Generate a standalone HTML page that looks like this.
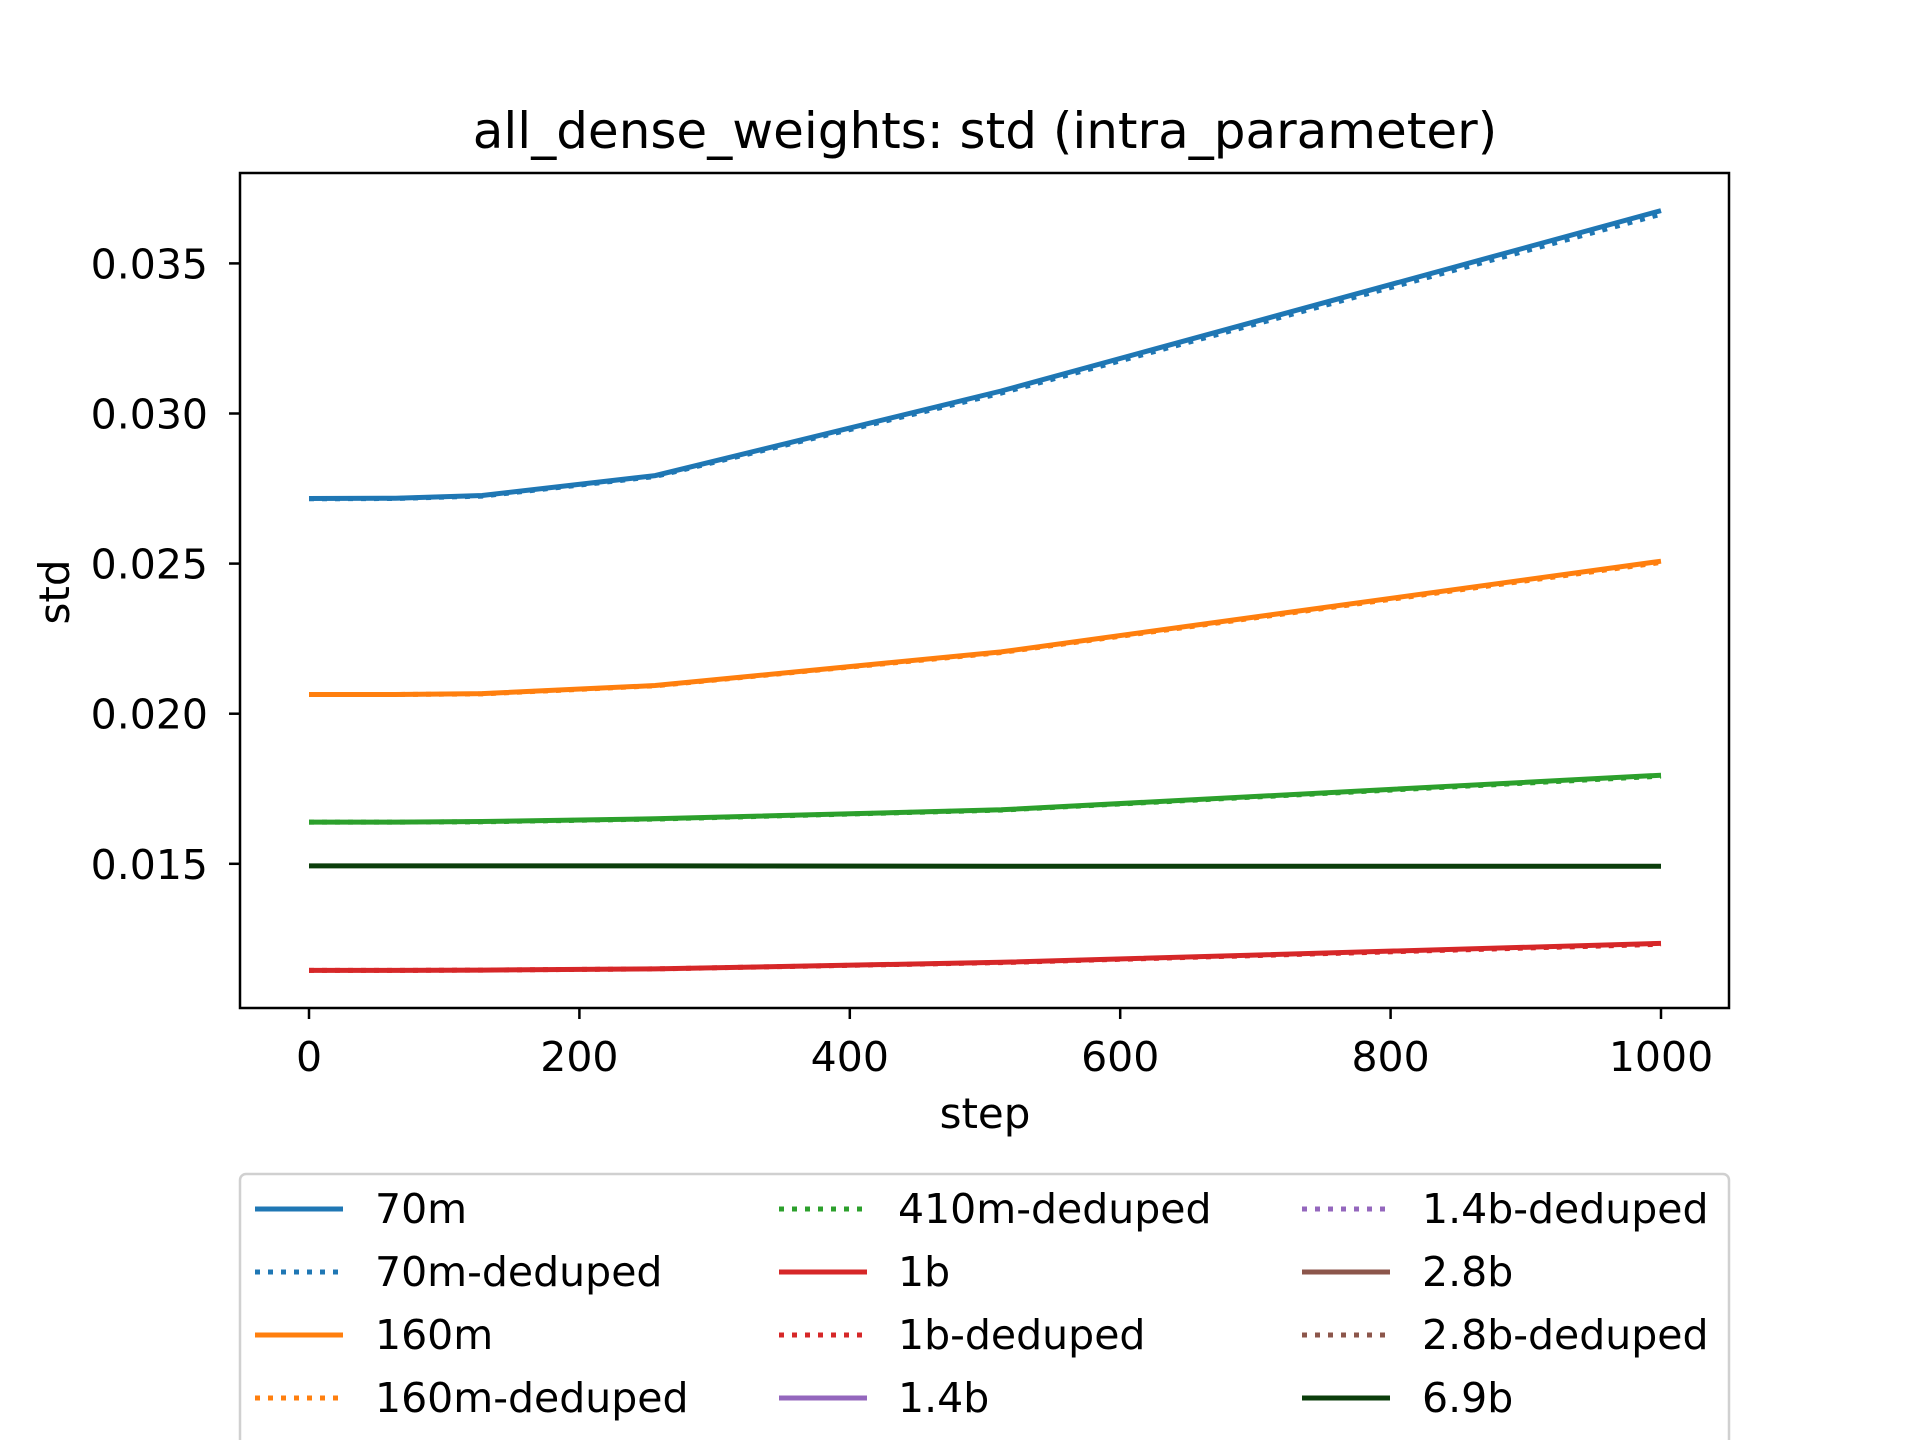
<!DOCTYPE html>
<html><head><meta charset="utf-8"><style>
html,body{margin:0;padding:0;background:#fff;}
svg{display:block;font-family:"DejaVu Sans","Liberation Sans",sans-serif;}
</style></head><body>
<svg id="chart" width="1920" height="1440" viewBox="0 0 1920 1440" xmlns="http://www.w3.org/2000/svg">
<rect width="1920" height="1440" fill="#fff"/>
<text x="985" y="148" font-size="50" text-anchor="middle">all_dense_weights: std (intra_parameter)</text>
<g id="plot"></g>
<rect x="240" y="173" width="1489" height="835" fill="none" stroke="#000" stroke-width="2.5"/>
<g id="axes"></g>
<text x="985" y="1128" font-size="42" text-anchor="middle">step</text>
<text transform="translate(69,592) rotate(-90)" font-size="42" text-anchor="middle">std</text>
<g id="legend"></g>
</svg>
<script>
const steps = [0, 64, 128, 256, 512, 1000];
const s70m = [0.02717, 0.02718, 0.02727, 0.02793, 0.03075, 0.03676];
const s70mDedup = [0.02716, 0.02717, 0.02725, 0.02790, 0.03068, 0.03664];
const s160m = [0.02064, 0.02064, 0.02067, 0.02094, 0.02206, 0.02508];
const s160mDedup = [0.02064, 0.02064, 0.02066, 0.02093, 0.02204, 0.02504];
const s410mDedup = [0.01639, 0.01639, 0.01640, 0.01649, 0.01679, 0.01792];
const s410m = [0.01639, 0.01639, 0.01641, 0.01650, 0.01680, 0.01795];
const s1b = [0.01145, 0.01145, 0.01146, 0.01150, 0.01172, 0.01235];
const s1bDedup = [0.01145, 0.01145, 0.01146, 0.01150, 0.01171, 0.01232];
const s69b = [0.01493, 0.01493, 0.01493, 0.01493, 0.01492, 0.01492];
const xTicks = [0, 200, 400, 600, 800, 1000];
const yTicks = [0.015, 0.020, 0.025, 0.030, 0.035];
const yTickLabels = ["0.015", "0.020", "0.025", "0.030", "0.035"];

const NS = "http://www.w3.org/2000/svg";
const xs = v => 309 + v * (1661 - 309) / 1000;
const ys = v => 263.4 + (0.035 - v) * (863.8 - 263.4) / 0.020;
function mk(tag, attrs, parent) {
  const e = document.createElementNS(NS, tag);
  for (const k in attrs) e.setAttribute(k, attrs[k]);
  parent.appendChild(e);
  return e;
}
const plot = document.getElementById('plot');
const series = [
  ["70m", s70m, "#1f77b4", false],
  ["160m", s160m, "#ff7f0e", false],
  ["410m", s410m, "#2ca02c", false],
  ["1b", s1b, "#d62728", false],
  ["6-9b", s69b, "#0b3d0b", false],
  ["70m-deduped", s70mDedup, "#1f77b4", true],
  ["160m-deduped", s160mDedup, "#ff7f0e", true],
  ["410m-deduped", s410mDedup, "#2ca02c", true],
  ["1b-deduped", s1bDedup, "#d62728", true]
];
series.forEach(([name, vals, col, dot]) => {
  const p = mk('polyline', {points: vals.map((v, i) => xs(steps[i]).toFixed(1) + ',' + ys(v).toFixed(1)).join(' '),
    fill: 'none', stroke: col, 'stroke-width': 5}, plot);
  if (dot) p.setAttribute('stroke-dasharray', '5,8');
  
  
});
const axes = document.getElementById('axes');
xTicks.forEach(t => {
  const l = mk('line', {x1: xs(t), x2: xs(t), y1: 1008, y2: 1019, stroke: '#000', 'stroke-width': 2.5}, axes);
  
  
  const tx = mk('text', {x: xs(t), y: 1071, 'font-size': 41, 'text-anchor': 'middle'}, axes);
  tx.textContent = t;
  
  
});
yTicks.forEach((t, i) => {
  const l = mk('line', {x1: 229, x2: 240, y1: ys(t), y2: ys(t), stroke: '#000', 'stroke-width': 2.5}, axes);
  
  
  const tx = mk('text', {x: 208, y: ys(t) + 15, 'font-size': 41, 'text-anchor': 'end'}, axes);
  tx.textContent = yTickLabels[i];
  
  
});
const lg = document.getElementById('legend');
const box = mk('rect', {x: 240, y: 1174, width: 1489, height: 300, rx: 6, fill: '#fff', stroke: '#d0d0d0', 'stroke-width': 2.5}, lg);


const legItems = [
  ["70m", "#1f77b4", false], ["70m-deduped", "#1f77b4", true], ["160m", "#ff7f0e", false], ["160m-deduped", "#ff7f0e", true],
  ["410m-deduped", "#2ca02c", true], ["1b", "#d62728", false], ["1b-deduped", "#d62728", true], ["1.4b", "#9467bd", false],
  ["1.4b-deduped", "#9467bd", true], ["2.8b", "#8c564b", false], ["2.8b-deduped", "#8c564b", true], ["6.9b", "#0b3d0b", false]
];
const colH = [255, 779, 1302], colT = [375, 898, 1422], rowY = [1209, 1272, 1335, 1398];
legItems.forEach(([name, col, dot], i) => {
  const c = Math.floor(i / 4), r = i % 4;
  const l = mk('line', {x1: colH[c], x2: colH[c] + 88, y1: rowY[r], y2: rowY[r], stroke: col, 'stroke-width': 5}, lg);
  if (dot) l.setAttribute('stroke-dasharray', '5,8');
  
  
  const t = mk('text', {x: colT[c], y: rowY[r] + 14, 'font-size': 41}, lg);
  t.textContent = name;
  
  
});
</script>
</body></html>
